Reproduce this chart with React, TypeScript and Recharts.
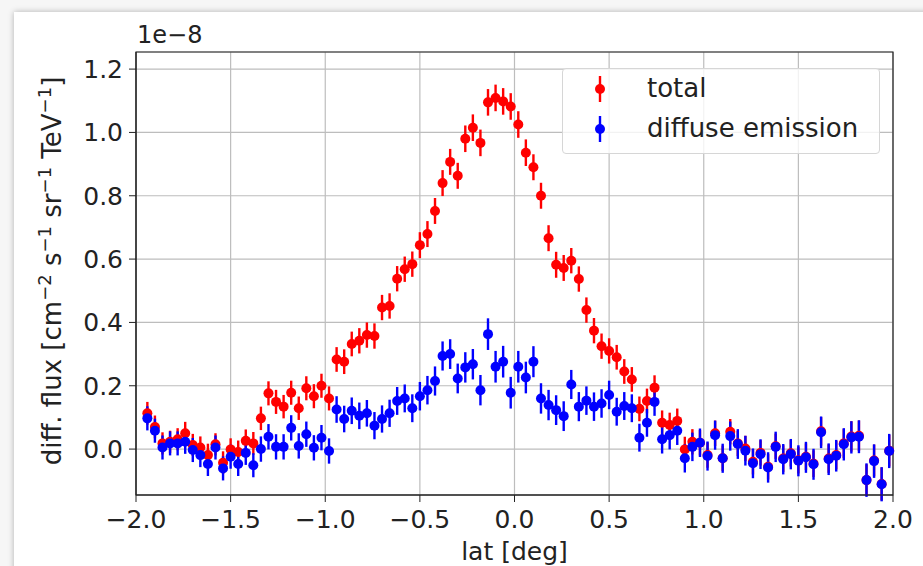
import React from "react"
import { ScatterChart, Scatter, XAxis, YAxis, CartesianGrid, ErrorBar, ReferenceArea } from "recharts"

// galactic latitude bin centres [deg]
const lat = [
  -1.94, -1.9, -1.86, -1.82, -1.78, -1.74, -1.7, -1.66, -1.62, -1.58,
  -1.54, -1.5, -1.46, -1.42, -1.38, -1.34, -1.3, -1.26, -1.22, -1.18,
  -1.14, -1.1, -1.06, -1.02, -0.98, -0.94, -0.9, -0.86, -0.82, -0.78,
  -0.74, -0.7, -0.66, -0.62, -0.58, -0.54, -0.5, -0.46, -0.42, -0.38,
  -0.34, -0.3, -0.26, -0.22, -0.18, -0.14, -0.1, -0.06, -0.02, 0.02,
  0.06, 0.1, 0.14, 0.18, 0.22, 0.26, 0.3, 0.34, 0.38, 0.42,
  0.46, 0.5, 0.54, 0.58, 0.62, 0.66, 0.7, 0.74, 0.78, 0.82,
  0.86, 0.9, 0.94, 0.98, 1.02, 1.06, 1.1, 1.14, 1.18, 1.22,
  1.26, 1.3, 1.34, 1.38, 1.42, 1.46, 1.5, 1.54, 1.58, 1.62,
  1.66, 1.7, 1.74, 1.78, 1.82, 1.86, 1.9, 1.94, 1.98,
]

// flux in units of 1e-8
const total = [
  0.113, 0.07, 0.018, 0.023, 0.031, 0.05, 0.013, 0.005, -0.019, 0.015,
  -0.043, -0.001, -0.009, 0.026, 0.018, 0.097, 0.176, 0.149, 0.134, 0.178,
  0.129, 0.192, 0.167, 0.2, 0.16, 0.283, 0.276, 0.332, 0.342, 0.36,
  0.357, 0.447, 0.452, 0.538, 0.568, 0.584, 0.644, 0.679, 0.752, 0.84,
  0.907, 0.863, 0.98, 1.015, 0.967, 1.095, 1.109, 1.098, 1.082, 1.025,
  0.936, 0.89, 0.8, 0.666, 0.582, 0.572, 0.595, 0.537, 0.439, 0.374,
  0.325, 0.31, 0.29, 0.245, 0.22, 0.127, 0.152, 0.194, 0.083, 0.076,
  0.089, -0.001, 0.023, 0.02, -0.019, 0.05, -0.029, 0.055, 0.018, 0.002,
  -0.04, -0.012, -0.056, 0.009, -0.03, -0.013, -0.035, -0.024, -0.046, 0.056,
  -0.03, -0.019, 0.018, 0.04, 0.042, -0.098, -0.036, -0.11, -0.005,
]

const totalErr = [
  0.036, 0.036, 0.035, 0.035, 0.035, 0.036, 0.035, 0.035, 0.036, 0.035,
  0.036, 0.035, 0.036, 0.036, 0.036, 0.037, 0.038, 0.038, 0.037, 0.038,
  0.037, 0.038, 0.038, 0.038, 0.038, 0.039, 0.039, 0.039, 0.04, 0.04,
  0.04, 0.04, 0.04, 0.04, 0.04, 0.04, 0.041, 0.041, 0.041, 0.041,
  0.041, 0.041, 0.042, 0.042, 0.042, 0.042, 0.042, 0.042, 0.042, 0.042,
  0.042, 0.041, 0.041, 0.041, 0.041, 0.041, 0.04, 0.04, 0.04, 0.04,
  0.04, 0.04, 0.039, 0.039, 0.039, 0.039, 0.039, 0.039, 0.039, 0.039,
  0.039, 0.04, 0.04, 0.04, 0.04, 0.04, 0.04, 0.04, 0.04, 0.04,
  0.04, 0.04, 0.04, 0.04, 0.042, 0.042, 0.042, 0.042, 0.042, 0.045,
  0.045, 0.045, 0.046, 0.048, 0.048, 0.05, 0.05, 0.052, 0.05,
]

const diffuse = [
  0.097, 0.058, 0.005, 0.018, 0.018, 0.023, -0.003, -0.019, -0.047, 0.005,
  -0.061, -0.024, -0.047, -0.012, -0.051, 0.0, 0.039, 0.007, 0.007, 0.067,
  0.01, 0.047, 0.004, 0.036, -0.006, 0.125, 0.095, 0.121, 0.105, 0.113,
  0.074, 0.095, 0.113, 0.152, 0.16, 0.129, 0.167, 0.186, 0.215, 0.294,
  0.3, 0.223, 0.258, 0.268, 0.186, 0.363, 0.26, 0.276, 0.178, 0.26,
  0.226, 0.276, 0.16, 0.139, 0.123, 0.104, 0.204, 0.134, 0.153, 0.134,
  0.144, 0.171, 0.118, 0.136, 0.129, 0.036, 0.083, 0.149, 0.031, 0.044,
  0.058, -0.029, 0.007, 0.02, -0.022, 0.044, -0.029, 0.041, 0.016, -0.005,
  -0.045, -0.016, -0.058, 0.007, -0.032, -0.016, -0.037, -0.026, -0.048, 0.053,
  -0.032, -0.021, 0.015, 0.037, 0.039, -0.098, -0.038, -0.111, -0.006,
]

const diffuseErr = [
  0.038, 0.038, 0.038, 0.038, 0.038, 0.038, 0.038, 0.038, 0.038, 0.038,
  0.038, 0.038, 0.038, 0.038, 0.038, 0.04, 0.04, 0.04, 0.04, 0.04,
  0.04, 0.04, 0.04, 0.04, 0.04, 0.042, 0.042, 0.042, 0.042, 0.042,
  0.043, 0.043, 0.043, 0.044, 0.044, 0.044, 0.045, 0.045, 0.046, 0.046,
  0.047, 0.047, 0.048, 0.048, 0.048, 0.05, 0.05, 0.05, 0.05, 0.05,
  0.05, 0.049, 0.048, 0.048, 0.047, 0.047, 0.046, 0.046, 0.045, 0.045,
  0.045, 0.045, 0.044, 0.044, 0.044, 0.044, 0.044, 0.044, 0.045, 0.045,
  0.045, 0.045, 0.045, 0.045, 0.046, 0.046, 0.046, 0.046, 0.047, 0.047,
  0.047, 0.047, 0.048, 0.048, 0.048, 0.048, 0.049, 0.049, 0.049, 0.05,
  0.05, 0.05, 0.051, 0.051, 0.052, 0.053, 0.053, 0.054, 0.054,
]

const xTicks = [-2, -1.5, -1, -0.5, 0, 0.5, 1, 1.5, 2]
const yTicks = [0, 0.2, 0.4, 0.6, 0.8, 1.0, 1.2]

const yMin = -0.145
const yMax = 1.254
const FONT = "'DejaVu Sans', sans-serif"
const TXT = "#222"
const FS = 25

const totalData = lat.map((x, i) => ({ lat: x, flux: total[i], err: totalErr[i] }))
const diffuseData = lat.map((x, i) => ({ lat: x, flux: diffuse[i], err: diffuseErr[i] }))

const fmt = (v: number) => (v < 0 ? "\u2212" + Math.abs(v).toFixed(1) : v.toFixed(1))

const dot = (color: string) => (props: any) => (
  <circle cx={props.cx} cy={props.cy} r={5} fill={color} />
)

function YLabel() {
  const sup = { fontSize: 18 }
  return (
    <text
      x={0}
      y={0}
      transform="translate(61,271) rotate(-90)"
      textAnchor="middle"
      fontFamily={FONT}
      fontSize={26}
      fill={TXT}
    >
      <tspan>diff. flux [cm</tspan>
      <tspan dy={-10} {...sup}>{"\u22122"}</tspan>
      <tspan dy={10}> s</tspan>
      <tspan dy={-10} {...sup}>{"\u22121"}</tspan>
      <tspan dy={10}> sr</tspan>
      <tspan dy={-10} {...sup}>{"\u22121"}</tspan>
      <tspan dy={10}> TeV</tspan>
      <tspan dy={-10} {...sup}>{"\u22121"}</tspan>
      <tspan dy={10}>]</tspan>
    </text>
  )
}

function LegendBox() {
  const rows = [
    { name: "total", color: "#ff0000", top: 20 },
    { name: "diffuse emission", color: "#0000ff", top: 60 },
  ]
  return (
    <div
      style={{
        position: "absolute",
        left: 562,
        top: 68,
        width: 316,
        height: 84,
        border: "1px solid #d6d6d6",
        borderRadius: 4,
        background: "rgba(255,255,255,0.8)",
        fontFamily: FONT,
        fontSize: 26,
        color: TXT,
      }}
    >
      {rows.map((r) => (
        <div key={r.name}>
          <svg
            width={20}
            height={30}
            style={{ position: "absolute", left: 27, top: r.top - 15 }}
          >
            <line x1={10} x2={10} y1={2} y2={28} stroke={r.color} strokeWidth={2.4} />
            <circle cx={10} cy={15} r={5} fill={r.color} />
          </svg>
          <span style={{ position: "absolute", left: 84, top: r.top - 16, lineHeight: "30px", whiteSpace: "nowrap" }}>
            {r.name}
          </span>
        </div>
      ))}
    </div>
  )
}

export default function App() {
  return (
    <div
      style={{
        position: "absolute",
        left: 0,
        top: 0,
        width: 923,
        height: 566,
        overflow: "hidden",
        background: "#f6f6f6",
      }}
    >
      <div
        style={{
          position: "absolute",
          left: 14,
          top: 12,
          width: 940,
          height: 600,
          background: "#fff",
          boxShadow: "0 0 6px rgba(0,0,0,0.28)",
        }}
      />
      <div style={{ position: "absolute", left: 0, top: 0 }}>
        <ScatterChart width={923} height={566} margin={{ top: 52, right: 30, bottom: 0, left: 0 }}>
          <CartesianGrid stroke="#bdbdbd" strokeWidth={1.2} />
          <XAxis
            dataKey="lat"
            type="number"
            domain={[-2, 2]}
            ticks={xTicks}
            tickFormatter={fmt}
            height={71}
            tickSize={7}
            tickMargin={8}
            axisLine={{ stroke: "#222" }}
            tickLine={{ stroke: "#222" }}
            tick={{ fill: TXT, fontSize: FS, fontFamily: FONT }}
            label={{
              value: "lat [deg]",
              position: "insideBottom",
              offset: 6,
              fill: TXT,
              fontSize: FS,
              fontFamily: FONT,
            }}
          />
          <YAxis
            dataKey="flux"
            type="number"
            domain={[yMin, yMax]}
            allowDataOverflow
            ticks={yTicks}
            tickFormatter={fmt}
            width={136}
            tickSize={7}
            tickMargin={6}
            axisLine={{ stroke: "#222" }}
            tickLine={{ stroke: "#222" }}
            tick={{ fill: TXT, fontSize: FS, fontFamily: FONT }}
            label={{ content: () => <YLabel /> }}
          />
          <ReferenceArea
            x1={-2}
            x2={2}
            y1={yMin}
            y2={yMax}
            fill="none"
            fillOpacity={0}
            stroke="#222"
            strokeWidth={1.2}
            ifOverflow="visible"
          />
          <Scatter
            name="total"
            data={totalData}
            fill="#ff0000"
            shape={dot("#ff0000")}
            isAnimationActive={false}
          >
            <ErrorBar dataKey="err" direction="y" width={0} stroke="#ff0000" strokeWidth={2.4} />
          </Scatter>
          <Scatter
            name="diffuse emission"
            data={diffuseData}
            fill="#0000ff"
            shape={dot("#0000ff")}
            isAnimationActive={false}
          >
            <ErrorBar dataKey="err" direction="y" width={0} stroke="#0000ff" strokeWidth={2.4} />
          </Scatter>
        </ScatterChart>
      </div>
      <div
        style={{
          position: "absolute",
          left: 137,
          top: 19,
          fontFamily: FONT,
          fontSize: 24,
          color: TXT,
          lineHeight: "32px",
        }}
      >
        1e{"\u2212"}8
      </div>
      <LegendBox />
    </div>
  )
}
